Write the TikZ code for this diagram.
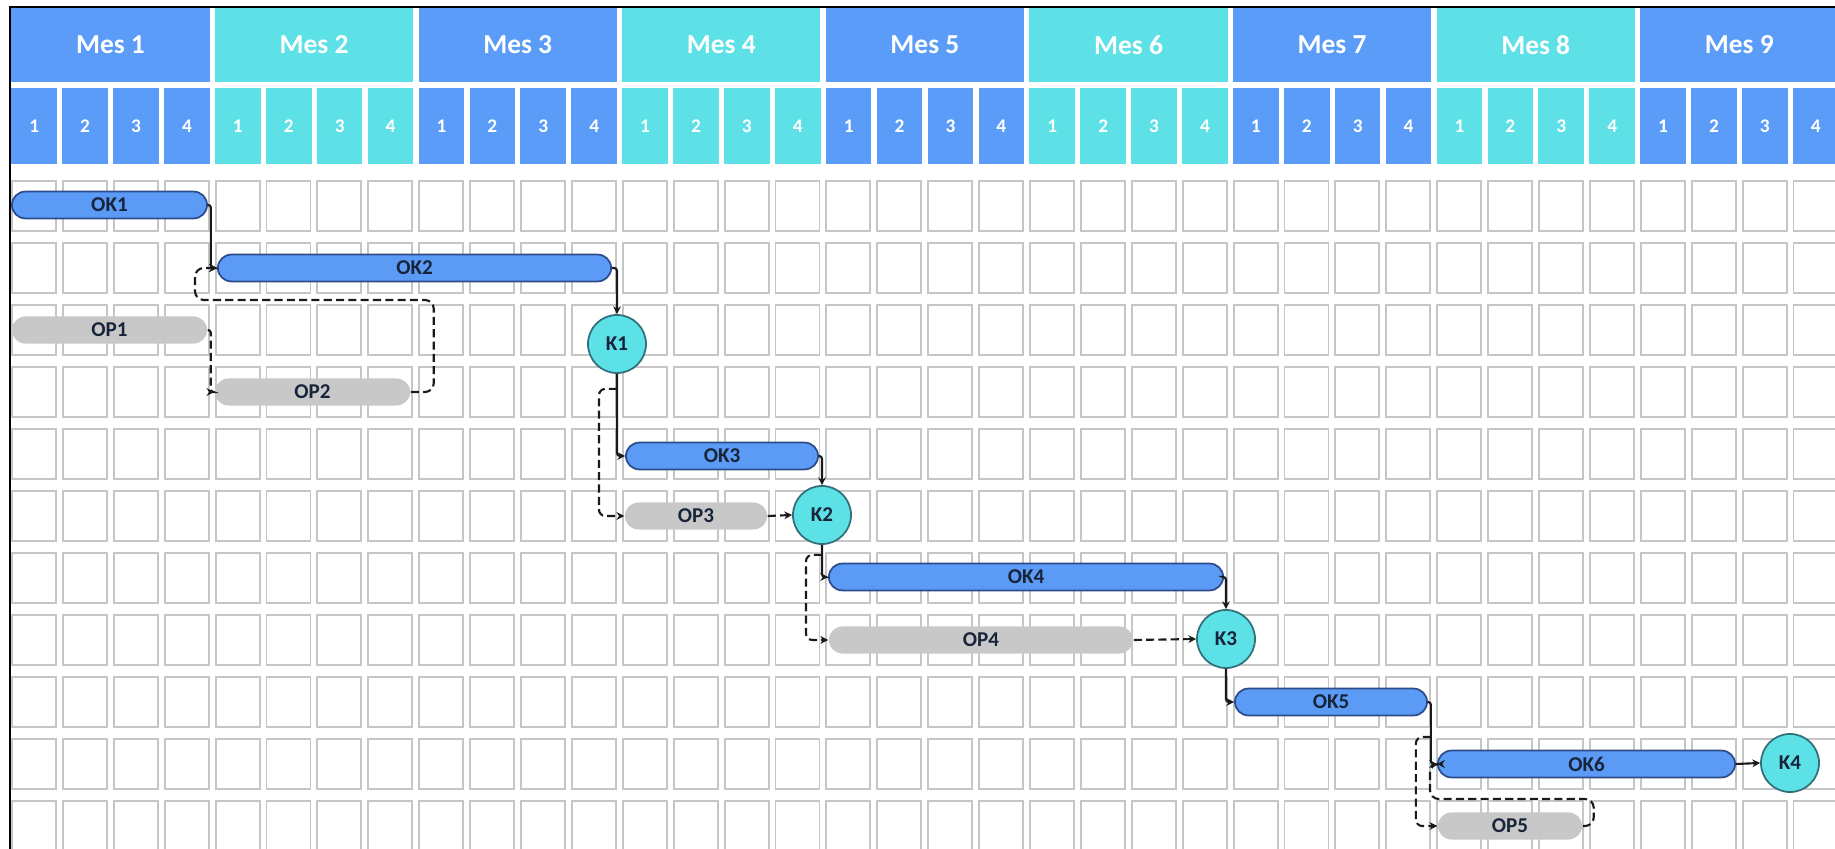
\documentclass[tikz,border=0pt]{standalone}
\usepackage{fontspec}
\setmainfont{Carlito}
\usetikzlibrary{arrows.meta}

\definecolor{hdrblue}{HTML}{5B9CF8}
\definecolor{hdrteal}{HTML}{5DE1E6}
\definecolor{cellgray}{HTML}{C6C6C6}
\definecolor{okfill}{HTML}{5B9BF5}
\definecolor{okline}{HTML}{2D4C8C}
\definecolor{opfill}{HTML}{C8C8C8}
\definecolor{msfill}{HTML}{5CE1E6}
\definecolor{msline}{HTML}{33707A}
\definecolor{labeltext}{HTML}{18243A}
\definecolor{linecol}{HTML}{1A1A1A}

\newcommand\hdrfont{\fontsize{7.8}{9}\selectfont\bfseries}
\newcommand\wkfont{\fontsize{5.5}{6.5}\selectfont\bfseries}
\newcommand\barfont{\fontsize{6}{7}\selectfont\bfseries}

\begin{document}
\begin{tikzpicture}[x=0.01cm, y=-0.01cm,
  monthbox/.style={inner sep=0, minimum width=1.98cm, minimum height=0.74cm, text=white, font=\hdrfont},
  weekbox/.style={inner sep=0, minimum width=0.455cm, minimum height=0.76cm, text=white, font=\wkfont},
  cell/.style={draw=cellgray, line width=0.55pt},
  okbar/.style={draw=okline, fill=okfill, line width=0.5pt, rounded corners=0.134cm,
    minimum height=0.268cm, inner sep=0, text=labeltext, font=\barfont},
  opbar/.style={fill=opfill, rounded corners=0.134cm,
    minimum height=0.27cm, inner sep=0, text=labeltext, font=\barfont},
  ms/.style={circle, draw=msline, fill=msfill, line width=0.5pt, minimum size=0.58cm,
    inner sep=0, text=labeltext, font=\barfont},
  conn/.style={draw=linecol, line width=0.6pt, -{Stealth[length=2.2pt,width=2.2pt]}, rounded corners=0.8pt},
  dconn/.style={conn, dash pattern=on 2.3pt off 1.2pt},
]
\useasboundingbox (0,0) rectangle (1835,849);
\clip (0,0) rectangle (1835,849);
\fill[white] (0,0) rectangle (1835,849);

% month header and week numbers
\foreach \m [evaluate=\m as \n using int(\m+1)] in {0,...,8}{
  \ifodd\m \def\hc{hdrteal}\else \def\hc{hdrblue}\fi
  \node[monthbox, fill=\hc] (mes\n) at (11.5+203.6*\m+99, 45) {Mes \n};
  \foreach \w [evaluate=\w as \j using int(4*\m+\w-1)] in {1,...,4}{
    \node[weekbox, fill=\hc] (wk\j) at (11.5+50.9*\j+22.75, 126) {\w};
  }
}

% empty schedule grid
\foreach \r in {0,...,10}{
  \foreach \c in {0,...,35}{
    \draw[cell] (12+50.9*\c, 181+62*\r) rectangle ++(44,50);
  }
}

% tasks
\node[okbar, minimum width=1.95cm] (ok1) at (109.5,205) {OK1};
\node[okbar, minimum width=3.93cm] (ok2) at (414.5,268) {OK2};
\node[opbar, minimum width=1.95cm] (op1) at (109.5,330) {OP1};
\node[opbar, minimum width=1.95cm] (op2) at (312.5,392) {OP2};
\node[okbar, minimum width=1.92cm] (ok3) at (722,456) {OK3};
\node[opbar, minimum width=1.42cm] (op3) at (696,516) {OP3};
\node[okbar, minimum width=3.94cm] (ok4) at (1026,577) {OK4};
\node[opbar, minimum width=3.04cm] (op4) at (981,640) {OP4};
\node[okbar, minimum width=1.92cm] (ok5) at (1331,702) {OK5};
\node[okbar, minimum width=2.97cm] (ok6) at (1586.5,764) {OK6};
\node[opbar, minimum width=1.44cm] (op5) at (1510,826) {OP5};

% milestones
\node[ms] (k1) at (617,344) {K1};
\node[ms] (k2) at (822,515) {K2};
\node[ms] (k3) at (1226,639) {K3};
\node[ms] (k4) at (1790,763) {K4};

% dependencies
\draw[conn] (ok1.east) -- ++(3,0) |- (ok2.west);
\draw[dconn] (op1.east) -- ++(3,0) |- (op2.west);
\draw[dconn, rounded corners=2.5pt] (op2.east) -- ++(23,0) |- (195,300) |- (ok2.west);
\draw[conn] (ok2.east) -| (k1.north);
\draw[conn] (k1.south) |- (ok3.west);
\draw[dconn, rounded corners=1.8pt] (k1.south) ++(0,15) -| ++(-18,40) |- (op3.west);
\draw[conn] (ok3.east) -| (k2.north);
\draw[dconn] (op3.east) -- (k2.west);
\draw[conn] (k2.south) |- (ok4.west);
\draw[dconn, rounded corners=1.8pt] (k2.south) ++(0,10) -| ++(-16,30) |- (op4.west);
\draw[conn] (ok4.east) -| (k3.north);
\draw[dconn] (op4.east) -- (k3.west);
\draw[conn] (k3.south) |- (ok5.west);
\draw[conn] (ok5.east) -- ++(3,0) |- (ok6.west);
\draw[dconn, rounded corners=1.8pt] (ok5.east) ++(3,35) -| ++(-15,40) |- (op5.west);
\draw[dconn, rounded corners=2.5pt] (op5.east) -- ++(11,0) |- (1430,799) |- (ok6.west);
\draw[conn] (ok6.east) -- (k4.west);

% frame
\draw[line width=0.75pt] (10,849) -- (10,7) -- (1835,7);
\end{tikzpicture}
\end{document}
